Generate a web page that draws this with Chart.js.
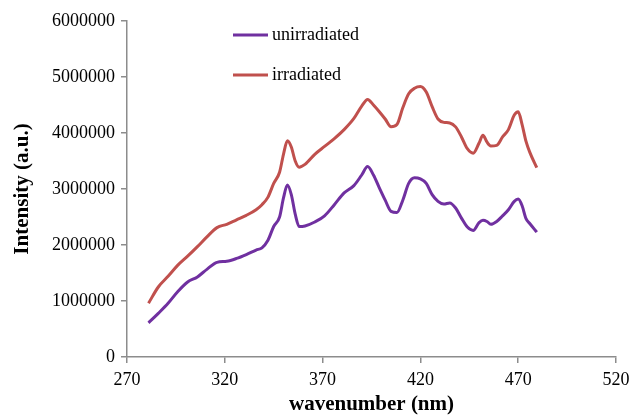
<!DOCTYPE html>
<html>
<head>
<meta charset="utf-8">
<script src="https://cdn.jsdelivr.net/npm/chart.js@4/dist/chart.umd.min.js"></script>
<style>
  html, body { margin: 0; padding: 0; background: #fff; }
  #wrap { width: 631px; height: 417px; }
</style>
</head>
<body>
<div id="wrap"><canvas id="spectrum"></canvas></div>
<script>
// wavelength grid (nm)
var wavelengths = [281, 286, 291, 296, 301, 306, 311, 316, 321, 326, 331, 336, 339, 342, 345, 348, 350, 352, 354, 356,
  358, 361, 366, 371, 376, 381, 386, 390, 393, 396, 399, 402, 405, 408, 411, 414, 417, 420, 423, 426,
  429, 432, 435, 438, 441, 444, 447, 450, 452, 454, 456, 459, 462, 465, 468, 470, 472, 474, 476, 479.5];

var unirradiatedValues = [610000, 780000, 960000, 1170000, 1340000, 1430000, 1570000, 1690000, 1710000, 1760000,
  1830000, 1910000, 1950000, 2080000, 2330000, 2500000, 2840000, 3070000, 2900000, 2550000,
  2330000, 2340000, 2410000, 2520000, 2720000, 2930000, 3060000, 3250000, 3400000, 3250000,
  3020000, 2800000, 2600000, 2580000, 2800000, 3100000, 3200000, 3180000, 3100000, 2900000,
  2780000, 2730000, 2750000, 2660000, 2480000, 2320000, 2260000, 2400000, 2440000, 2420000,
  2370000, 2420000, 2520000, 2630000, 2780000, 2820000, 2700000, 2470000, 2380000, 2230000];

var irradiatedValues = [960000, 1250000, 1440000, 1640000, 1800000, 1970000, 2150000, 2310000, 2370000, 2450000,
  2530000, 2630000, 2720000, 2850000, 3100000, 3300000, 3620000, 3860000, 3750000, 3500000,
  3390000, 3440000, 3620000, 3760000, 3900000, 4060000, 4260000, 4480000, 4600000, 4500000,
  4380000, 4250000, 4110000, 4150000, 4450000, 4700000, 4800000, 4830000, 4730000, 4470000,
  4250000, 4190000, 4180000, 4110000, 3930000, 3720000, 3640000, 3820000, 3960000, 3840000,
  3770000, 3780000, 3930000, 4060000, 4320000, 4380000, 4150000, 3850000, 3650000, 3380000];

var seriesNames = ["unirradiated", "irradiated"];
var seriesColors = ["#7030A0", "#C0504D"];

function toPoints(values) {
  return wavelengths.map(function (w, i) { return { x: w, y: values[i] }; });
}

const axisGray = "#8c8c8c";
const serif = "'Liberation Serif', 'Times New Roman', serif";

// legend drawn inside the plot area
const insideLegend = {
  id: 'insideLegend',
  afterDraw(chart, args, opts) {
    const ctx = chart.ctx;
    ctx.save();
    ctx.font = "18px " + serif;
    ctx.textBaseline = "middle";
    chart.data.datasets.forEach(function (ds, i) {
      const y = opts.top + i * opts.gap;
      ctx.strokeStyle = ds.borderColor;
      ctx.lineWidth = 3;
      ctx.beginPath();
      ctx.moveTo(opts.left, y);
      ctx.lineTo(opts.left + 35, y);
      ctx.stroke();
      ctx.fillStyle = "#000";
      ctx.fillText(ds.label, opts.left + 39, y);
    });
    ctx.restore();
  }
};

new Chart("spectrum", {
  type: "line",
  data: {
    datasets: [{
      label: seriesNames[0],
      data: toPoints(unirradiatedValues),
      borderColor: seriesColors[0],
      borderWidth: 3,
      pointRadius: 0,
      cubicInterpolationMode: "monotone",
      fill: false
    }, {
      label: seriesNames[1],
      data: toPoints(irradiatedValues),
      borderColor: seriesColors[1],
      borderWidth: 3,
      pointRadius: 0,
      cubicInterpolationMode: "monotone",
      fill: false
    }]
  },
  options: {
    responsive: true,
    maintainAspectRatio: false,
    animation: false,
    layout: { padding: { top: 21, right: 15, bottom: 0, left: 0 } },
    plugins: {
      legend: { display: false },
      tooltip: { enabled: false },
      insideLegend: { left: 233, top: 35, gap: 40 }
    },
    scales: {
      x: {
        type: "linear",
        min: 270,
        max: 520,
        afterFit(scale) {
          scale.height = 60;
          // let the last label overhang instead of shrinking the plot
          scale.paddingLeft = 0;
          scale.paddingRight = 0;
        },
        ticks: { stepSize: 50, color: "#000", font: { family: serif, size: 18 }, padding: 6, maxRotation: 0 },
        grid: { display: true, drawOnChartArea: false, drawTicks: true, tickLength: 6, color: axisGray, lineWidth: 1.5 },
        border: { color: axisGray, width: 1.5 },
        title: { display: true, text: "wavenumber (nm)", color: "#000", font: { family: serif, size: 21, weight: "bold" }, padding: { top: 0, bottom: 0 } }
      },
      y: {
        min: 0,
        max: 6000000,
        afterFit(scale) { scale.width = 127; },
        ticks: { stepSize: 1000000, color: "#000", font: { family: serif, size: 18 }, padding: 6, callback: function (v) { return String(v); } },
        grid: { display: true, drawOnChartArea: false, drawTicks: true, tickLength: 6, color: axisGray, lineWidth: 1.5 },
        border: { color: axisGray, width: 1.5 },
        title: { display: true, text: "Intensity (a.u.)", color: "#000", font: { family: serif, size: 21, weight: "bold" }, padding: { top: 10, bottom: 0 } }
      }
    }
  },
  plugins: [insideLegend]
});
</script>
</body>
</html>
